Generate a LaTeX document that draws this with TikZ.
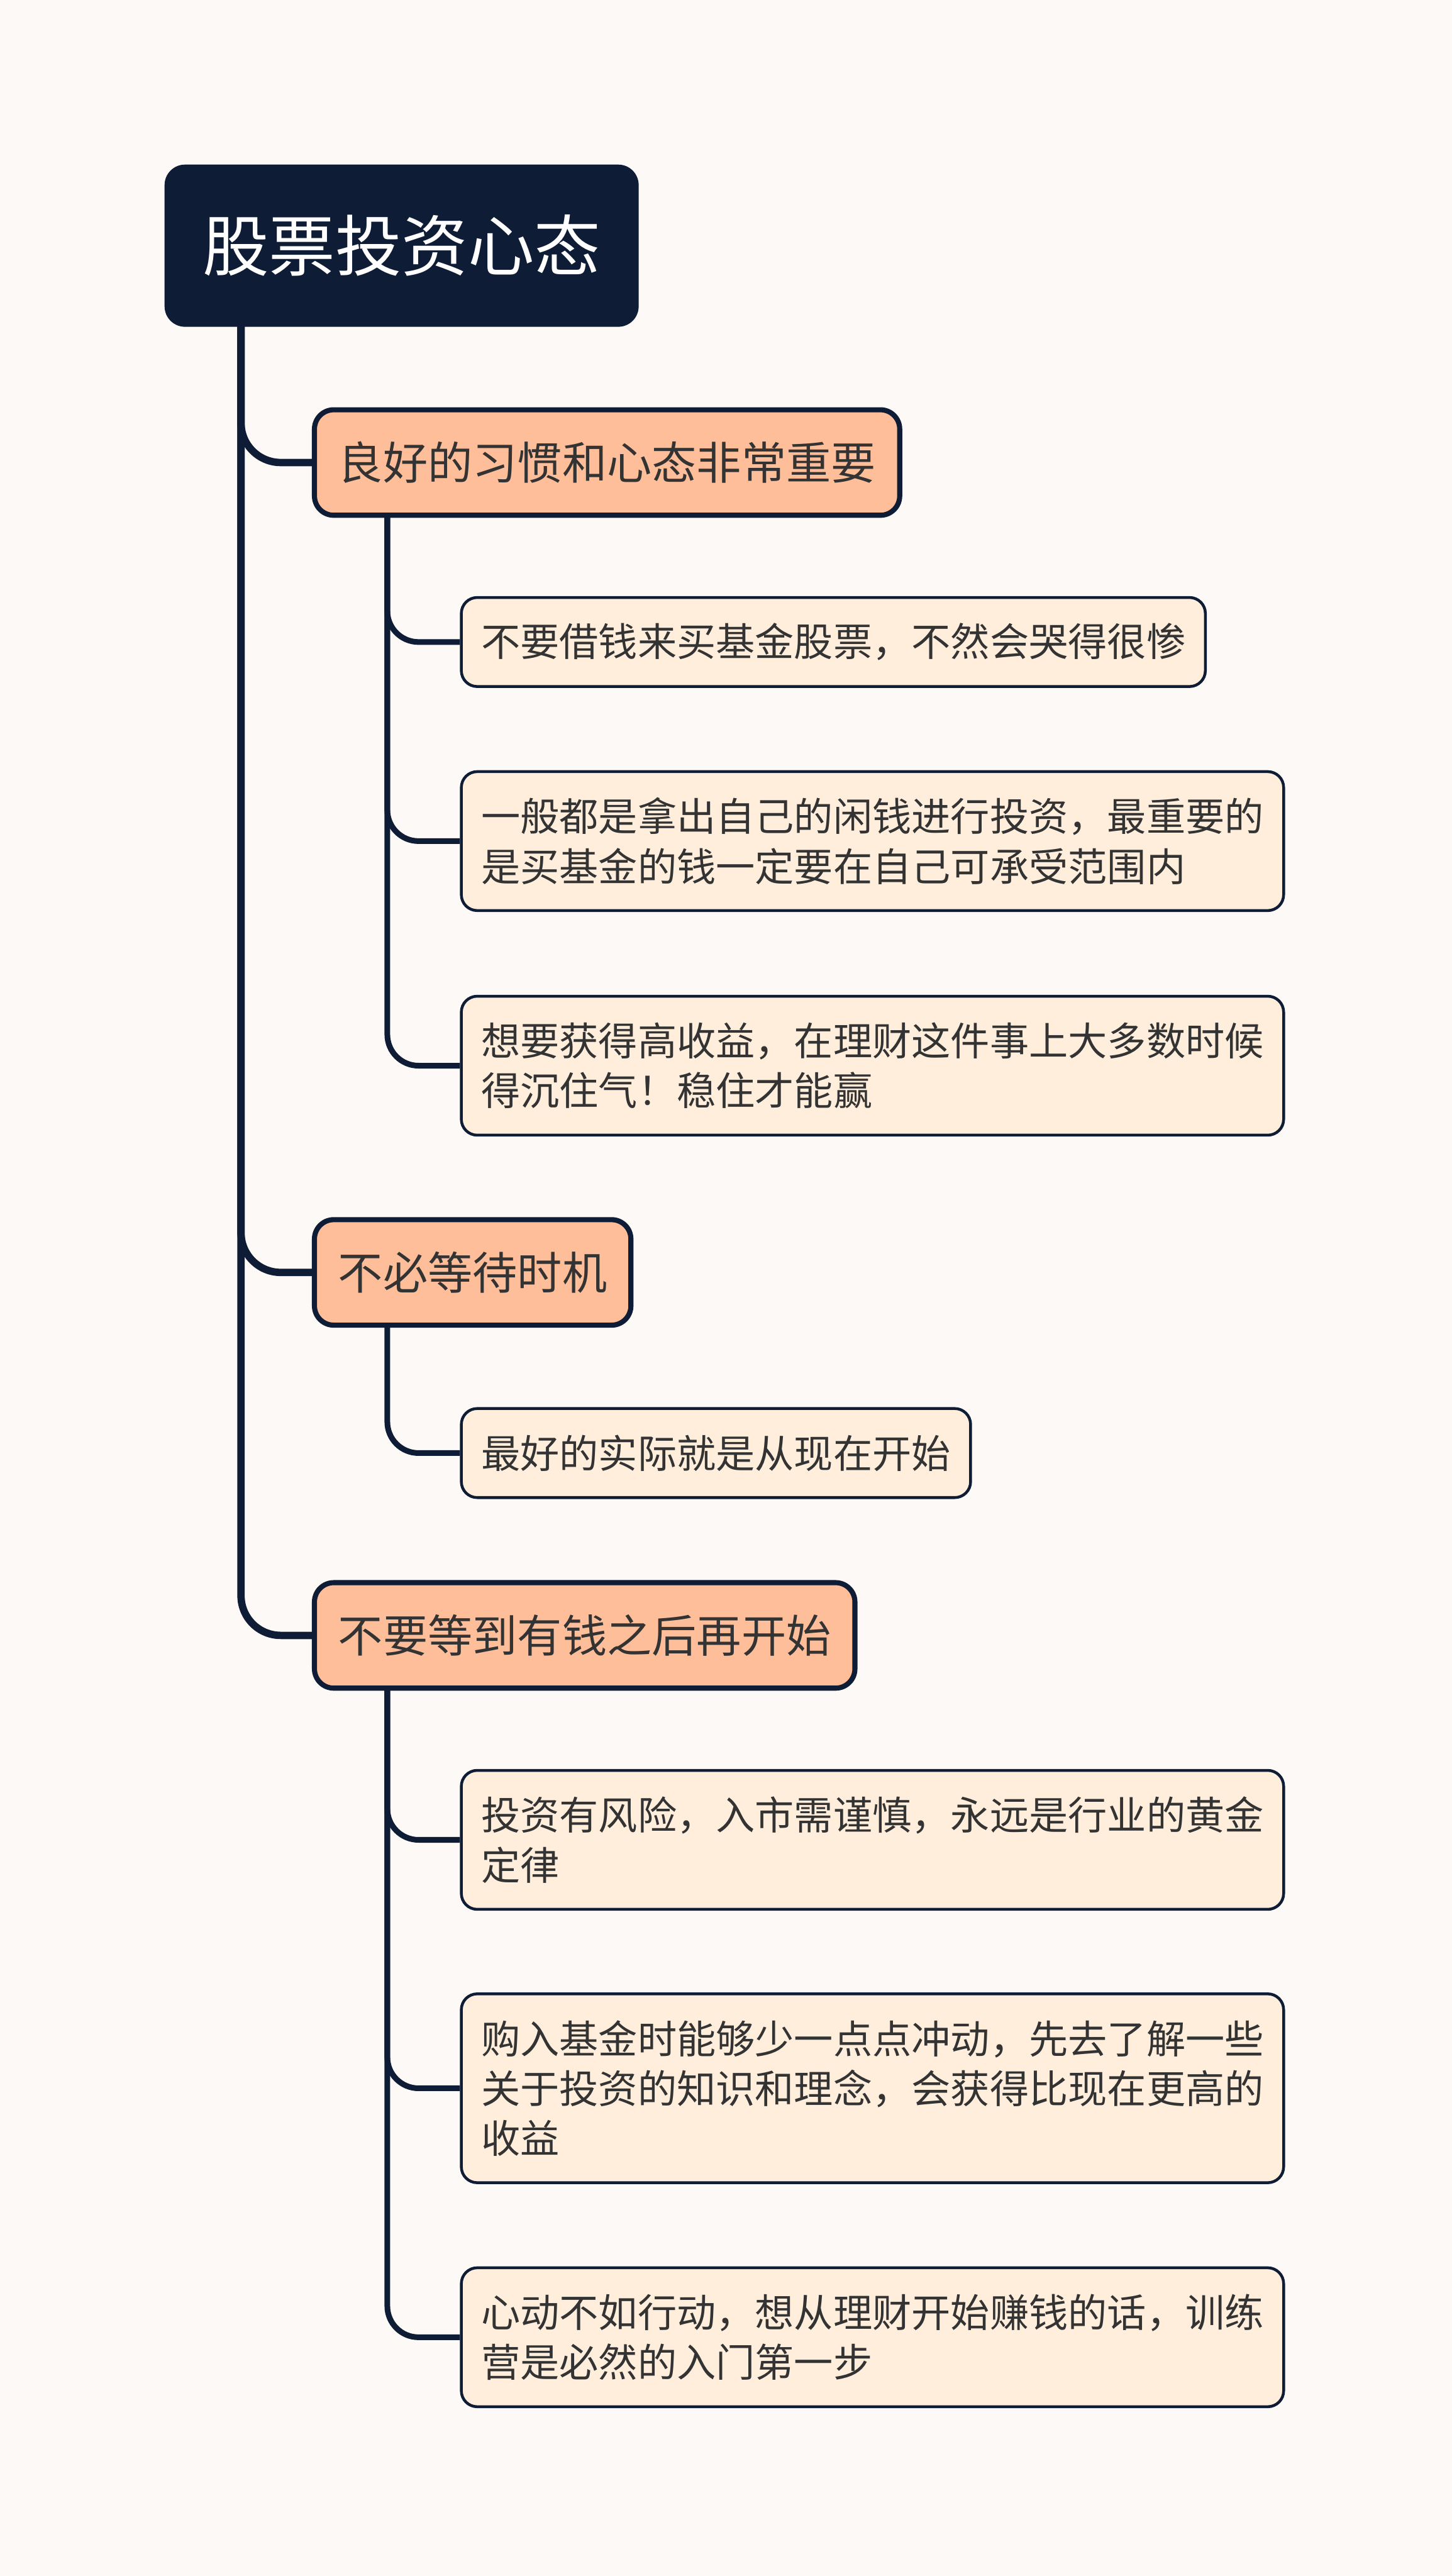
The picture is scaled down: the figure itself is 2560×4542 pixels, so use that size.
\documentclass[tikz,border=0pt]{standalone}
\usepackage{fontspec}
\newfontfamily\cjk{Noto Sans CJK SC}
\usetikzlibrary{calc,backgrounds}
\definecolor{navy}{HTML}{0E1D35}
\definecolor{peach}{HTML}{FDBE99}
\definecolor{cream}{HTML}{FFEEDC}
\definecolor{bg}{HTML}{FDF9F7}
\definecolor{txt}{HTML}{333333}
\begin{document}
\begin{tikzpicture}[x=1pt,y=-1pt,
  rootbox/.style={fill=navy, rounded corners=36pt, text=white, font=\cjk\fontsize{117}{140}\selectfont, inner xsep=67pt, inner ysep=0pt, minimum height=286pt, anchor=north west},
  topicbox/.style={fill=peach, draw=navy, line width=9pt, rounded corners=34pt, text=txt, font=\cjk\fontsize{79}{95}\selectfont, inner xsep=42pt, inner ysep=0pt, minimum height=186pt, anchor=north west},
  leafbox/.style={fill=cream, draw=navy, line width=5pt, rounded corners=28pt, text=txt, font=\cjk\fontsize{69}{88}\selectfont, inner xsep=35pt, inner ysep=0pt, align=left, anchor=north west},
  one/.style={minimum height=157pt},
  two/.style={minimum height=245pt},
  three/.style={minimum height=333pt},
  trunk/.style={draw=navy, line width=13pt, rounded corners=70pt},
  twig/.style={draw=navy, line width=10pt, rounded corners=55pt}]
\useasboundingbox (0,0) rectangle (2560,4542);
\node[rootbox] (root) at (290,290) {股票投资心态};
\node[topicbox] (ta) at (550,718) {良好的习惯和心态非常重要};
\node[topicbox] (tb) at (550,2146) {不必等待时机};
\node[topicbox] (tc) at (550,2786) {不要等到有钱之后再开始};
\node[leafbox,one] (a1) at (811,1051) {不要借钱来买基金股票，不然会哭得很惨};
\node[leafbox,two] (a2) at (811,1358) {一般都是拿出自己的闲钱进行投资，最重要的\\是买基金的钱一定要在自己可承受范围内};
\node[leafbox,two] (a3) at (811,1754) {想要获得高收益，在理财这件事上大多数时候\\得沉住气！稳住才能赢};
\node[leafbox,one] (b1) at (811,2481) {最好的实际就是从现在开始};
\node[leafbox,two] (c1) at (811,3119) {投资有风险，入市需谨慎，永远是行业的黄金\\定律};
\node[leafbox,three] (c2) at (811,3513) {购入基金时能够少一点点冲动，先去了解一些\\关于投资的知识和理念，会获得比现在更高的\\收益};
\node[leafbox,two] (c3) at (811,3996) {心动不如行动，想从理财开始赚钱的话，训练\\营是必然的入门第一步};
\begin{pgfonlayer}{background}
\fill[bg] (0,0) rectangle (2560,4542);
\coordinate (r0) at ($(root.south west)+(135,-10)$);
\coordinate (pa) at ($(ta.south west)+(133,-10)$);
\coordinate (pb) at ($(tb.south west)+(133,-10)$);
\coordinate (pc) at ($(tc.south west)+(133,-10)$);
\draw[trunk] (r0) |- (ta.west);
\draw[trunk] (r0) |- (tb.west);
\draw[trunk] (r0) |- (tc.west);
\draw[twig] (pa) |- (a1.west);
\draw[twig] (pa) |- (a2.west);
\draw[twig] (pa) |- (a3.west);
\draw[twig] (pb) |- (b1.west);
\draw[twig] (pc) |- (c1.west);
\draw[twig] (pc) |- (c2.west);
\draw[twig] (pc) |- (c3.west);
\end{pgfonlayer}
\end{tikzpicture}
\end{document}
